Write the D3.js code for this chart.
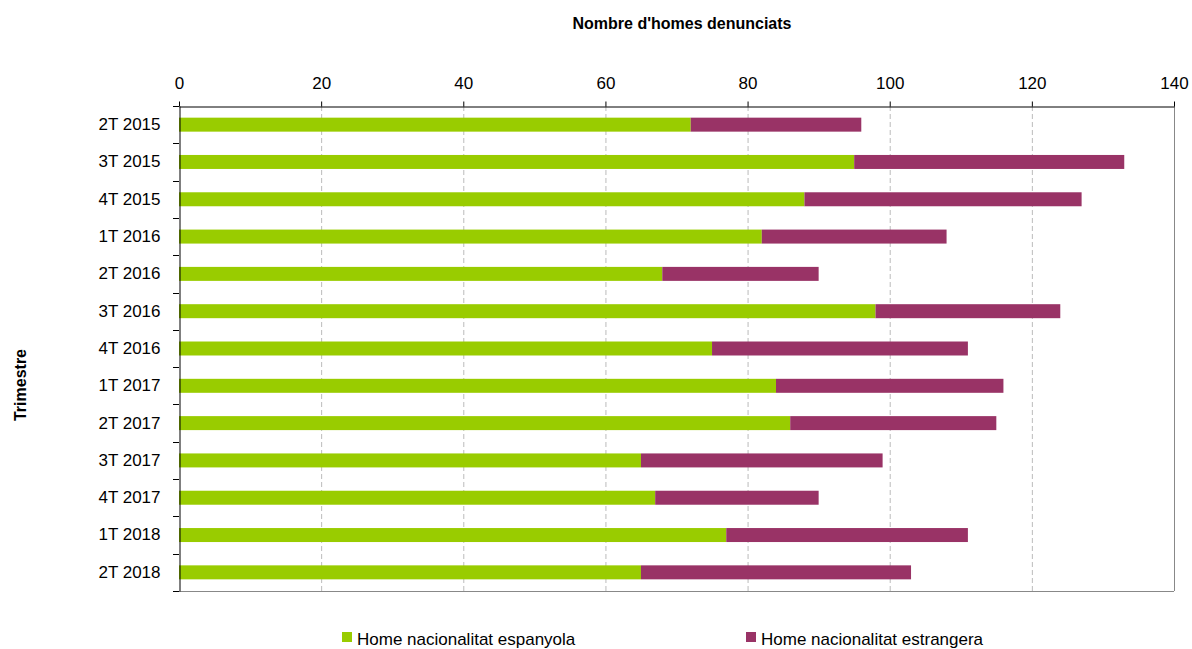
<!DOCTYPE html>
<html><head><meta charset="utf-8">
<script src="https://cdn.jsdelivr.net/npm/d3@7"></script>
<style>
body{margin:0;background:#fff;}
text{font-family:"Liberation Sans",Arial,sans-serif;fill:#000;}
</style></head>
<body><svg id="c" width="1192" height="649"></svg>
<script>
const categories = ["2T 2015","3T 2015","4T 2015","1T 2016","2T 2016","3T 2016","4T 2016","1T 2017","2T 2017","3T 2017","4T 2017","1T 2018","2T 2018"];
const spanish = [72,95,88,82,68,98,75,84,86,65,67,77,65];
const foreign = [24,38,39,26,22,26,36,32,29,34,23,34,38];
const seriesNames = ["Home nacionalitat espanyola","Home nacionalitat estrangera"];
const colors = ["#99CC00","#993366"];
const xTicks = [0,20,40,60,80,100,120,140];

const svg = d3.select("#c");
const L=179, R=1174, T=106, B=591;
const x = d3.scaleLinear().domain([0,140]).range([L,R]);
const y = d3.scaleBand().domain(categories).range([T,B]).paddingInner(0.625).paddingOuter(0.3125);

// gridlines
svg.append("g").selectAll("line").data(xTicks.filter(d=>d>0 && d<140)).join("line")
  .attr("x1",d=>x(d)+0.5).attr("x2",d=>x(d)+0.5).attr("y1",T).attr("y2",B)
  .attr("stroke","#bbb").attr("stroke-dasharray","5,3");
// right border and bottom
svg.append("line").attr("x1",R+0.5).attr("x2",R+0.5).attr("y1",T).attr("y2",B).attr("stroke","#888");
svg.append("line").attr("x1",L).attr("x2",R).attr("y1",B+0.5).attr("y2",B+0.5).attr("stroke","#888");

const data = categories.map((c,i)=>({c, s:spanish[i], f:foreign[i]}));
svg.append("g").selectAll("rect").data(data).join("rect")
  .attr("x",x(0)).attr("y",d=>y(d.c)).attr("width",d=>x(d.s)-x(0)).attr("height",y.bandwidth()).attr("fill",colors[0]);
svg.append("g").selectAll("rect").data(data).join("rect")
  .attr("x",d=>x(d.s)).attr("y",d=>y(d.c)).attr("width",d=>x(d.s+d.f)-x(d.s)).attr("height",y.bandwidth()).attr("fill",colors[1]);

// top axis
const xa = svg.append("g").attr("transform",`translate(0,${T+0.5})`)
  .call(d3.axisTop(x).tickValues(xTicks).tickSize(5).tickSizeOuter(0).tickPadding(13));
xa.select(".domain").attr("stroke","#000");
xa.selectAll(".tick line").attr("stroke","#000");
xa.selectAll("text").style("font-size","17px").attr("font-family","Liberation Sans, Arial, sans-serif").attr("fill","#000");

// left axis
const ya = svg.append("g").attr("transform",`translate(${L+0.5},0)`)
  .call(d3.axisLeft(y).tickSize(0).tickPadding(19));
ya.select(".domain").attr("stroke","#000");
ya.selectAll("text").style("font-size","17px").attr("font-family","Liberation Sans, Arial, sans-serif").attr("fill","#000");
const bounds = d3.range(categories.length+1).map(i=>T + i*(B-T)/categories.length);
svg.append("g").selectAll("line").data(bounds).join("line")
  .attr("x1",L-6).attr("x2",L).attr("y1",d=>Math.round(d)+0.5).attr("y2",d=>Math.round(d)+0.5).attr("stroke","#000");

// titles
svg.append("text").attr("x",682).attr("y",29).attr("text-anchor","middle")
  .style("font-size","16px").style("font-weight","bold").text("Nombre d'homes denunciats");
svg.append("text").attr("transform","translate(26,385) rotate(-90)").attr("text-anchor","middle")
  .style("font-size","16px").style("font-weight","bold").text("Trimestre");

// legend
const lg = [{x:342,n:seriesNames[0],c:colors[0]},{x:746,n:seriesNames[1],c:colors[1]}];
const g = svg.append("g").selectAll("g").data(lg).join("g");
g.append("rect").attr("x",d=>d.x).attr("y",632).attr("width",10).attr("height",10).attr("fill",d=>d.c);
g.append("text").attr("x",d=>d.x+15).attr("y",645).style("font-size","17px").text(d=>d.n);
</script></body></html>
